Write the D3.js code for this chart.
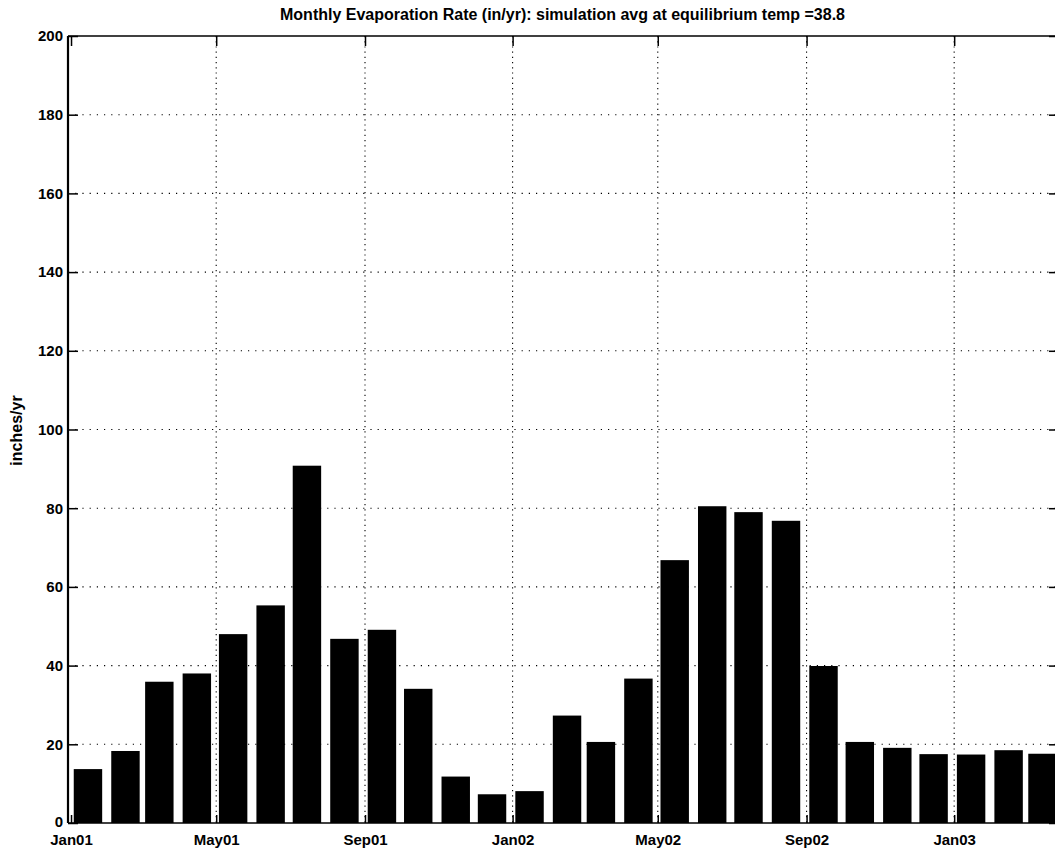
<!DOCTYPE html>
<html>
<head>
<meta charset="utf-8">
<script src="https://cdn.jsdelivr.net/npm/d3@7/dist/d3.min.js"></script>
<style>
  html, body { margin: 0; padding: 0; background: #fff; }
  svg { display: block; font-family: "Liberation Sans", Arial, Helvetica, sans-serif; }
</style>
</head>
<body>
<svg id="chart" width="1055" height="853"></svg>
<script>
// Monthly evaporation rate, Jan 2001 - Mar 2003 (inches per year)
const months = [
  "2001-01","2001-02","2001-03","2001-04","2001-05","2001-06","2001-07","2001-08","2001-09",
  "2001-10","2001-11","2001-12","2002-01","2002-02","2002-03","2002-04","2002-05","2002-06",
  "2002-07","2002-08","2002-09","2002-10","2002-11","2002-12","2003-01","2003-02","2003-03"
];
const evaporation = [
  13.7, 18.3, 35.9, 38.0, 48.0, 55.3, 90.8, 46.8, 49.1,
  34.1, 11.8, 7.3, 8.1, 27.3, 20.6, 36.7, 66.8, 80.5,
  79.0, 76.8, 39.9, 20.6, 19.1, 17.5, 17.4, 18.5, 17.6
];
const xTickDates = ["2001-01-01","2001-05-01","2001-09-01","2002-01-01","2002-05-01","2002-09-01","2003-01-01"];
const xTickLabels = ["Jan01","May01","Sep01","Jan02","May02","Sep02","Jan03"];
const yTicks = [0, 20, 40, 60, 80, 100, 120, 140, 160, 180, 200];
const titleText = "Monthly Evaporation Rate (in/yr): simulation avg at equilibrium temp =38.8";
const yLabelText = "inches/yr";

const parseDay = d3.timeParse("%Y-%m-%d");
const parseMonth = d3.timeParse("%Y-%m");
// each bar sits on the 15th of its month
const barDates = months.map(m => d3.timeDay.offset(parseMonth(m), 14));

const svg = d3.select("#chart");
const plotLeft = 68, plotRight = 1057, plotTop = 36, plotBottom = 823;
const fontFamily = "Liberation Sans, Arial, sans-serif";

const x = d3.scaleTime()
  .domain([new Date(2000, 11, 29, 12), new Date(2003, 2, 27)])
  .range([plotLeft, plotRight]);
const y = d3.scaleLinear().domain([0, 200]).range([plotBottom, plotTop]);

const halfBarDays = 11.75;
const barX0 = d => x(new Date(d.getTime() - halfBarDays * 864e5));
const barX1 = d => x(new Date(d.getTime() + halfBarDays * 864e5));

const plot = svg.append("g");

// dotted grid, drawn under the bars
const grid = plot.append("g")
  .attr("stroke", "#000").attr("stroke-width", 1.1)
  .attr("stroke-dasharray", "1.2,6").attr("fill", "none");
grid.selectAll("line.h").data(yTicks.slice(1, -1)).join("line")
  .attr("class", "h")
  .attr("x1", plotLeft).attr("x2", plotRight)
  .attr("y1", d => y(d)).attr("y2", d => y(d));
grid.selectAll("line.v").data(xTickDates.slice(1)).join("line")
  .attr("class", "v")
  .attr("stroke-dasharray", "1.2,4")
  .attr("x1", d => x(parseDay(d))).attr("x2", d => x(parseDay(d)))
  .attr("y1", plotTop).attr("y2", plotBottom);

// bars
plot.append("g").selectAll("rect").data(evaporation).join("rect")
  .attr("x", (v, i) => barX0(barDates[i]))
  .attr("width", (v, i) => barX1(barDates[i]) - barX0(barDates[i]))
  .attr("y", v => y(v))
  .attr("height", v => y(0) - y(v))
  .attr("fill", "#000");

// y axis (left) with inward ticks
const yAxis = d3.axisLeft(y).tickValues(yTicks).tickSize(-10).tickPadding(6).tickFormat(d3.format("d"));
const gy = svg.append("g").attr("transform", `translate(${plotLeft},0)`).call(yAxis);
gy.select(".domain").remove();
gy.selectAll(".tick line").attr("stroke", "#000").attr("stroke-width", 1.5);
gy.selectAll(".tick text")
  .attr("font-size", 15).attr("font-weight", "bold").attr("fill", "#000")
  .attr("font-family", fontFamily)
  .attr("x", -5)
  .attr("dy", d => d === 0 ? "0.2em" : "0.32em");

// right axis ticks (inward)
const gyr = svg.append("g").attr("transform", `translate(${plotRight},0)`)
  .call(d3.axisRight(y).tickValues(yTicks).tickSize(-8).tickFormat(""));
gyr.select(".domain").remove();
gyr.selectAll(".tick line").attr("stroke", "#000").attr("stroke-width", 1.5);

// x axis (bottom) with date labels
const xAxis = d3.axisBottom(x)
  .tickValues(xTickDates.map(parseDay))
  .tickFormat((d, i) => xTickLabels[i])
  .tickSize(-8).tickPadding(11);
const gx = svg.append("g").attr("transform", `translate(0,${plotBottom})`).call(xAxis);
gx.select(".domain").remove();
gx.selectAll(".tick line").attr("stroke", "#000").attr("stroke-width", 1.5);
gx.selectAll(".tick text")
  .attr("font-size", 15).attr("font-weight", "bold").attr("fill", "#000")
  .attr("font-family", fontFamily);

// top axis ticks (inward)
const gxt = svg.append("g").attr("transform", `translate(0,${plotTop})`)
  .call(d3.axisTop(x).tickValues(xTickDates.map(parseDay)).tickSize(-10).tickFormat(""));
gxt.select(".domain").remove();
gxt.selectAll(".tick line").attr("stroke", "#000").attr("stroke-width", 1.5);

// axes box
const box = svg.append("g").attr("stroke", "#000").attr("fill", "none");
box.append("line").attr("x1", plotLeft).attr("x2", plotLeft).attr("y1", plotTop).attr("y2", plotBottom).attr("stroke-width", 2.2);
box.append("line").attr("x1", plotLeft).attr("x2", plotRight).attr("y1", plotTop).attr("y2", plotTop).attr("stroke-width", 1.6);
box.append("line").attr("x1", plotLeft).attr("x2", plotRight).attr("y1", plotBottom).attr("y2", plotBottom).attr("stroke-width", 1.6);
box.append("line").attr("x1", plotRight).attr("x2", plotRight).attr("y1", plotTop).attr("y2", plotBottom).attr("stroke-width", 1.6);

// title
svg.append("text")
  .attr("x", (plotLeft + plotRight) / 2).attr("y", 20)
  .attr("text-anchor", "middle")
  .attr("font-size", 16).attr("font-weight", "bold").attr("fill", "#000")
  .attr("font-family", fontFamily)
  .text(titleText);

// y label
svg.append("text")
  .attr("transform", `translate(22,${(plotTop + plotBottom) / 2 + 1}) rotate(-90)`)
  .attr("text-anchor", "middle")
  .attr("font-size", 16).attr("font-weight", "bold").attr("fill", "#000")
  .attr("font-family", fontFamily)
  .text(yLabelText);
</script>
</body>
</html>
